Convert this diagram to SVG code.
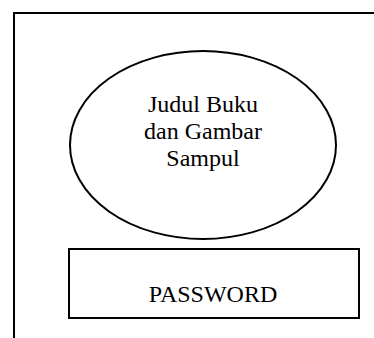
<svg xmlns="http://www.w3.org/2000/svg" width="374" height="338" viewBox="0 0 374 338">
  <style>
    .frame { fill: none; stroke: #000; stroke-width: 2; }
    .shape { fill: #fff; stroke: #000; stroke-width: 2; }
    .label { font-family: "Liberation Serif", "Times New Roman", serif; font-size: 24px; fill: #000; text-anchor: middle; }
  </style>
  <rect width="374" height="338" fill="#fff"/>
  <!-- page frame: top and left edges -->
  <g id="frame">
    <path class="frame" d="M14 338 V13 H374"/>
  </g>
  <g id="cover">
    <ellipse class="shape" cx="203" cy="145" rx="133" ry="94"/>
    <text class="label" x="203" y="112">Judul Buku</text>
    <text class="label" x="203" y="139">dan Gambar</text>
    <text class="label" x="203" y="166">Sampul</text>
  </g>
  <g id="password">
    <rect class="shape" x="69" y="249" width="290" height="69"/>
    <text class="label" x="213" y="302">PASSWORD</text>
  </g>
  <g id="connectors"/>
</svg>
